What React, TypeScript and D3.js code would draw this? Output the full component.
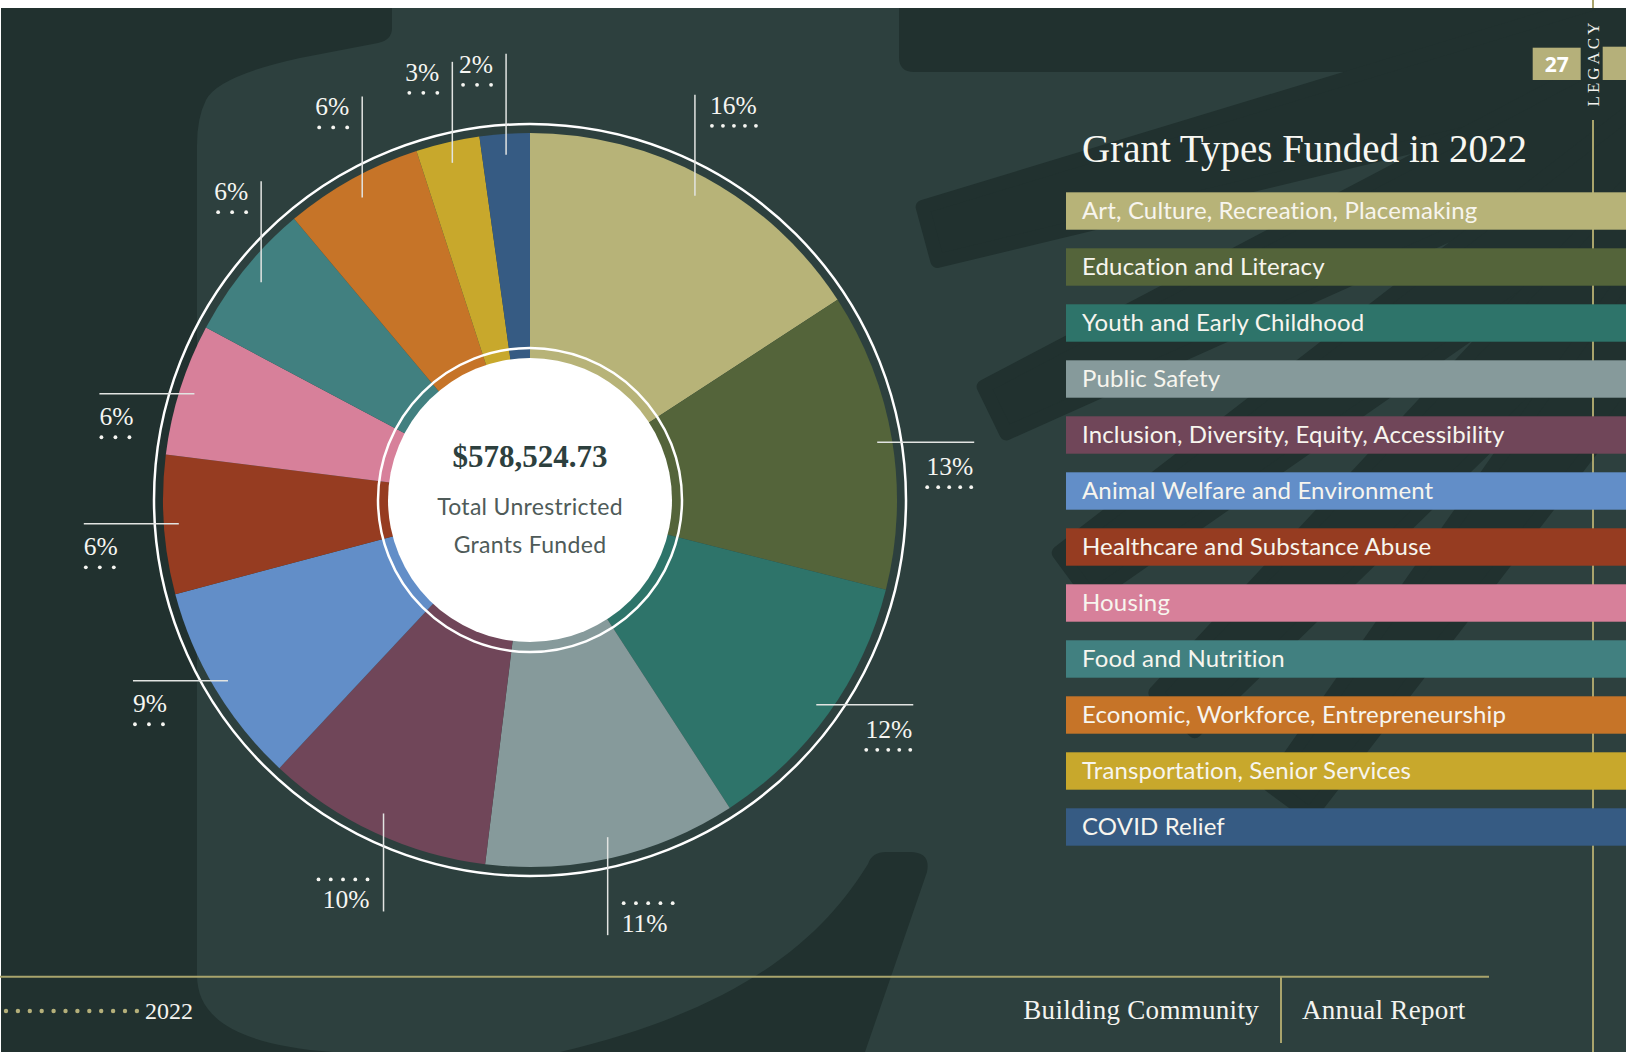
import React from "react";
import * as d3 from "d3";

const categories = [
  "Art, Culture, Recreation, Placemaking",
  "Education and Literacy",
  "Youth and Early Childhood",
  "Public Safety",
  "Inclusion, Diversity, Equity, Accessibility",
  "Animal Welfare and Environment",
  "Healthcare and Substance Abuse",
  "Housing",
  "Food and Nutrition",
  "Economic, Workforce, Entrepreneurship",
  "Transportation, Senior Services",
  "COVID Relief",
];
const shares = [15.8, 13.1, 11.9, 11.1, 10.0, 8.9, 6.1, 5.8, 6.1, 6.1, 2.8, 2.2];
const pctLabels = ["16%", "13%", "12%", "11%", "10%", "9%", "6%", "6%", "6%", "6%", "3%", "2%"];
const colors = [
  "#b7b378", "#54643a", "#2e746a", "#869a9b", "#704659", "#628ec8",
  "#963c21", "#d7809a", "#418080", "#c67428", "#c8a82c", "#365b83",
];
const totalLabel = "$578,524.73";
const centerLines = ["Total Unrestricted", "Grants Funded"];
const titleText = "Grant Types Funded in 2022";
const yearText = "2022";

const SERIF = "'Liberation Serif', 'Times New Roman', serif";
const SANS = "Lato, 'Open Sans', sans-serif";
const BG = "#2d403e";
const DARK = "#21312f";
const GOLD = "#b5b07a";
const GOLDLINE = "#a9a46c";

export default function App() {
  const W = 1626, H = 1052;
  const cx = 530, cy = 500;
  const outerR = 367, holeR = 142, innerRing = 152, outerRing = 376;

  const pie = d3.pie<number>().sort(null).value((d) => d)(shares);
  const arc = d3.arc<d3.PieArcDatum<number>>().innerRadius(0).outerRadius(outerR);

  const legendY = d3
    .scaleBand<string>()
    .domain(categories)
    .range([192.3, 845.7])
    .paddingInner(0.332)
    .paddingOuter(0);

  // decorative rays
  const F = [1900, -30];
  const rays = [
    { e: [930, 234], w0: 56, w1: 120 },
    { e: [995, 410], w0: 52, w1: 120 },
    { e: [1075, 575], w0: 55, w1: 110 },
    { e: [1175, 712], w0: 55, w1: 110 },
    { e: [1290, 800], w0: 50, w1: 100 },
  ];
  const rayPath = (r: any) => {
    const dx = F[0] - r.e[0], dy = F[1] - r.e[1];
    const len = Math.hypot(dx, dy);
    const ux = dx / len, uy = dy / len;
    const px = -uy, py = ux;
    const L = 1100;
    const a = [r.e[0] + px * r.w0 / 2, r.e[1] + py * r.w0 / 2];
    const b = [r.e[0] - px * r.w0 / 2, r.e[1] - py * r.w0 / 2];
    const c = [r.e[0] + ux * L - px * r.w1 / 2, r.e[1] + uy * L - py * r.w1 / 2];
    const d = [r.e[0] + ux * L + px * r.w1 / 2, r.e[1] + uy * L + py * r.w1 / 2];
    return `M${a}L${b}L${c}L${d}Z`;
  };

  const labels = pie.map((p, i) => {
    const a = (p.startAngle + p.endAngle) / 2;
    const deg = (a * 180) / Math.PI;
    const label = pctLabels[i];
    const long = label.length > 2;
    const tw = long ? 46 : 30;
    const nd = long ? 5 : 3;
    let dir: string;
    if (deg < 60 || deg >= 300) dir = "up";
    else if (deg < 135) dir = "right";
    else if (deg < 225) dir = "down";
    else dir = "left";
    const r = dir === "up" || dir === "down" ? 346 : 352;
    const px = cx + r * Math.sin(a);
    const py = cy - r * Math.cos(a);
    let line: number[], tx: number, ty: number, anchor: string, dy: number;
    if (dir === "up") {
      line = [px, py, px, py - 101];
      const top = py - 101;
      if (deg < 180) { tx = px + 15; anchor = "start"; } else { tx = px - 13; anchor = "end"; }
      ty = top + 19; dy = top + 31;
    } else if (dir === "down") {
      line = [px, py, px, py + 98];
      const bot = py + 98;
      if (deg < 180) { tx = px + 14; anchor = "start"; } else { tx = px - 14; anchor = "end"; }
      ty = bot - 3; dy = bot - 32;
    } else if (dir === "right") {
      line = [px, py, px + 97, py];
      tx = px + 96; anchor = "end"; ty = py + 33; dy = py + 45;
    } else {
      line = [px, py, px - 95, py];
      tx = px - 95; anchor = "start"; ty = py + 31; dy = py + 43.5;
    }
    const dw = dir === "down" ? tw + 5 : tw;
    const x0 = anchor === "start" ? tx + 2 : tx - dw;
    const x1 = anchor === "start" ? tx + dw : tx - 2;
    const dots = d3.range(nd).map((k) => x0 + ((x1 - x0) * k) / (nd - 1));
    return { line, tx, ty, anchor, dy, dots, label };
  });

  const noLig = { fontVariantLigatures: "none" as const };

  return (
    <svg width={W} height={H} style={{ position: "absolute", left: 0, top: 0 }}>
      <defs>
        <clipPath id="bgclip">
          <rect x={1} y={8} width={W - 1} height={H - 8} />
        </clipPath>
      </defs>
      <rect x={0} y={0} width={W} height={H} fill="#ffffff" />
      <rect x={1} y={8} width={W - 1} height={H - 8} fill={BG} />
      {/* decorative background shapes */}
      <g clipPath="url(#bgclip)">
        <path
          d="M1,8 L392,8 L392,28 Q392,40 378,43 L300,58 Q218,76 206,100 Q197,118 197,145 L197,975 C197,1020 240,1045 333,1052 L1,1052 Z"
          fill={DARK}
        />
        <path d="M899,8 L1626,8 L1626,72 L914,72 Q899,72 899,57 Z" fill={DARK} />
        <path
          d="M868,864 C830,925 760,1005 560,1052 L865,1052 L927,872 Q931,852 910,852 L886,852 Q872,852 868,864 Z"
          fill={DARK}
        />
        {rays.map((r, i) => (
          <path key={i} d={rayPath(r)} fill={DARK} stroke={DARK} strokeWidth={14} strokeLinejoin="round" />
        ))}
      </g>

      {/* right gold rule */}
      <line x1={1593} y1={0} x2={1593} y2={8} stroke={GOLDLINE} strokeWidth={2} />
      <line x1={1593} y1={120} x2={1593} y2={H} stroke={GOLDLINE} strokeWidth={2} />
      <rect x={1532.7} y={47.7} width={48} height={32.3} fill={GOLD} />
      <rect x={1602.7} y={46.7} width={24} height={33.3} fill={GOLD} />
      <text x={1556.7} y={72} textAnchor="middle" fontFamily="'Open Sans', sans-serif" fontWeight={700} fontSize={21} fill="#ffffff">27</text>
      <text transform="translate(1598.5,63) rotate(-90)" textAnchor="middle" fontFamily={SERIF} fontSize={17} letterSpacing={3} fill="#f2f2ee">LEGACY</text>

      {/* pie */}
      <g transform={`translate(${cx},${cy})`}>
        <circle r={outerRing} fill="none" stroke="#ffffff" strokeWidth={2.5} />
        {pie.map((p, i) => (
          <path key={i} d={arc(p) || ""} fill={colors[i]} />
        ))}
        <circle r={innerRing} fill="none" stroke="#ffffff" strokeWidth={2.5} />
        <circle r={holeR} fill="#ffffff" />
        <text y={-33} textAnchor="middle" fontFamily={SERIF} fontWeight={700} fontSize={31} fill="#2d403e">{totalLabel}</text>
        {centerLines.map((t, i) => (
          <text key={i} y={15 + i * 37.5} textAnchor="middle" fontFamily={SANS} fontSize={23} letterSpacing={0.3} fill="#4f5b59" style={noLig}>{t}</text>
        ))}
      </g>

      {/* percentage labels */}
      {labels.map((l, i) => (
        <g key={i}>
          <line x1={l.line[0]} y1={l.line[1]} x2={l.line[2]} y2={l.line[3]} stroke="#e2e4e2" strokeWidth={1.5} />
          <text x={l.tx} y={l.ty} textAnchor={l.anchor as any} fontFamily={SERIF} fontSize={25.5} fill="#f6f6f2">{l.label}</text>
          {l.dots.map((x, k) => (
            <circle key={k} cx={x} cy={l.dy} r={1.9} fill="#f6f6f2" />
          ))}
        </g>
      ))}

      {/* legend */}
      <text x={1082} y={162} fontFamily={SERIF} fontSize={39} fill="#f7f7f2">{titleText}</text>
      {categories.map((c, i) => (
        <g key={c}>
          <rect x={1066} y={legendY(c)} width={W - 1066} height={legendY.bandwidth()} fill={colors[i]} />
          <text x={1082} y={(legendY(c) || 0) + 27} fontFamily={SANS} fontSize={24} letterSpacing={0.15} fill="#f7f5ee" style={noLig}>{c}</text>
        </g>
      ))}

      {/* footer */}
      <line x1={0} y1={976.7} x2={1489} y2={976.7} stroke={GOLDLINE} strokeWidth={2} />
      <line x1={1281} y1={977} x2={1281} y2={1043} stroke={GOLDLINE} strokeWidth={2} />
      <text x={1259} y={1019} textAnchor="end" fontFamily={SERIF} fontSize={27} letterSpacing={0.3} fill="#f4f4f0">Building Community</text>
      <text x={1302} y={1019} fontFamily={SERIF} fontSize={27} letterSpacing={0.3} fill="#f4f4f0">Annual Report</text>
      {d3.range(12).map((k) => (
        <circle key={k} cx={6 + k * 11.9} cy={1011} r={2.2} fill={GOLD} />
      ))}
      <text x={145} y={1019} fontFamily={SERIF} fontSize={24} fill="#f4f4f0">{yearText}</text>
    </svg>
  );
}
